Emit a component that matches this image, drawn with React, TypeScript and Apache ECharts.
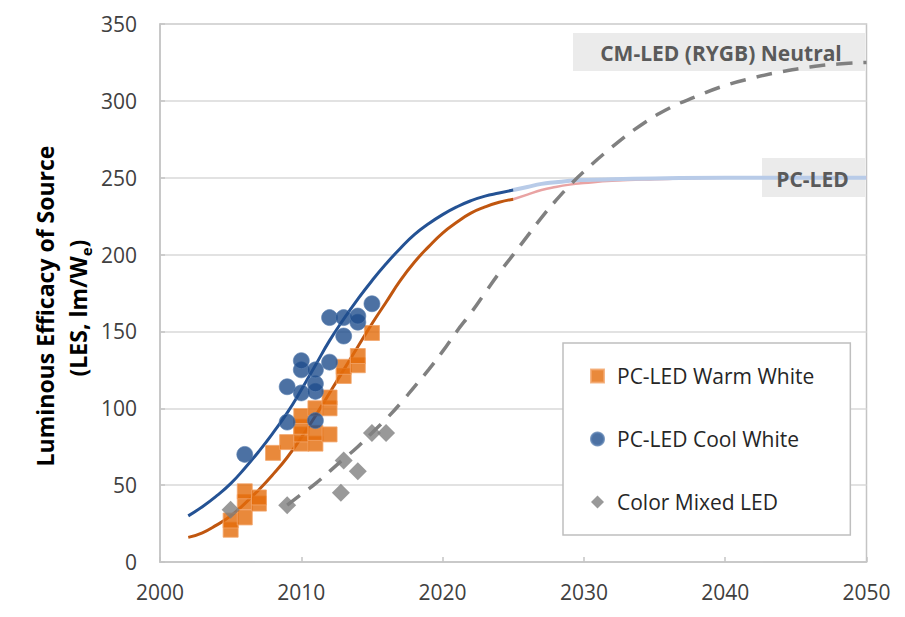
import React, { useEffect, useRef } from "react";
import * as echarts from "echarts";

// ---- data ----
const xTickMin = 2000;
const xTickMax = 2050;
const yTickMin = 0;
const yTickMax = 350;

const warmWhite: [number, number][] = [
  [2005, 21], [2005, 27], [2006, 29], [2006, 39], [2006, 46], [2007, 38], [2007, 42],
  [2008, 71], [2009, 78], [2010, 77], [2010, 83], [2010, 88], [2010, 95],
  [2011, 77], [2011, 84], [2011, 100], [2012, 83], [2012, 100], [2012, 107],
  [2013, 121], [2013, 127], [2014, 128], [2014, 134], [2015, 149],
];

const coolWhite: [number, number][] = [
  [2006, 70], [2009, 91], [2009, 114], [2010, 110], [2010, 125], [2010, 131],
  [2011, 92], [2011, 111], [2011, 116], [2011, 125], [2012, 130], [2012, 159],
  [2013, 147], [2013, 159], [2014, 156], [2014, 160], [2015, 168],
];

const colorMixed: [number, number][] = [
  [2005, 34], [2009, 37], [2012.8, 45], [2013, 66], [2014, 59], [2015, 84], [2016, 84],
];

const fitYears = [2002, 2003, 2004, 2005, 2006, 2007, 2008, 2009, 2010, 2011, 2012, 2013,
  2014, 2015, 2016, 2017, 2018, 2019, 2020, 2021, 2022, 2023, 2024, 2025];
const warmFit = [16, 19, 24, 30, 38, 47, 57, 68, 81, 95, 110, 125,
  140, 155, 169, 183, 195, 205, 214, 221, 227, 231, 234, 236];
const coolFit = [30, 36, 43, 51, 61, 72, 84, 97, 112, 128, 144, 158,
  171, 183, 194, 204, 213, 220, 226, 231, 235, 238, 240, 242];

const contYears = [2025, 2026, 2027, 2028, 2029, 2030, 2032, 2035, 2040, 2045, 2050];
const warmCont = [236, 239, 242, 244, 245.5, 246.5, 248, 249, 250, 250, 250];
const coolCont = [242, 244, 246, 247, 248, 248.5, 249, 249.5, 250, 250, 250];

const cmYears = [2009, 2010, 2011, 2012, 2013, 2014, 2015, 2016, 2017, 2018, 2019, 2020,
  2021, 2022, 2023, 2024, 2025, 2026, 2027, 2028, 2029, 2030, 2032, 2034, 2036, 2038,
  2040, 2042, 2044, 2046, 2048, 2050];
const cmFit = [37, 44, 51, 59, 67, 75, 84, 93, 103, 114, 125, 137,
  150, 162, 175, 188, 200, 212, 224, 235, 245, 254, 270, 284, 295, 303,
  310, 315, 319, 322, 324, 325];

const legendNames = ["PC-LED Warm White", "PC-LED Cool White", "Color Mixed LED"];
const yTitle1 = "Luminous Efficacy of Source";
const cmLabel = "CM-LED (RYGB) Neutral";
const pcLabel = "PC-LED";

const FONT = "'Open Sans', 'Noto Sans', sans-serif";

const zip = (xs: number[], ys: number[]) => xs.map((x, i) => [x, ys[i]]);

export default function App() {
  const ref = useRef<HTMLDivElement>(null);

  useEffect(() => {
    if (!ref.current) return;
    const chart = echarts.init(ref.current, undefined, { renderer: "svg" });
    const lineBase = {
      type: "line",
      smooth: true,
      showSymbol: false,
      symbol: "none",
    };
    const option: any = {
      animation: false,
      backgroundColor: "#ffffff",
      grid: {
        left: 160,
        right: 38.5,
        top: 24,
        bottom: 55,
        show: true,
        borderColor: "#c4c4c4",
        borderWidth: 1.5,
        backgroundColor: "transparent",
      },
      xAxis: {
        type: "value",
        min: xTickMin,
        max: xTickMax,
        interval: 10,
        axisLine: { show: true, lineStyle: { color: "#c4c4c4", width: 1.5 } },
        axisTick: { show: true, inside: true, length: 5, lineStyle: { color: "#c4c4c4", width: 1.5 } },
        splitLine: { show: false },
        axisLabel: {
          margin: 19,
          fontFamily: FONT,
          fontSize: 21,
          color: "#404040",
          formatter: (v: number) => String(v),
        },
      },
      yAxis: {
        type: "value",
        min: yTickMin,
        max: yTickMax,
        interval: 50,
        axisLine: { show: true, lineStyle: { color: "#c4c4c4", width: 1.5 } },
        axisTick: { show: true, inside: true, length: 5, lineStyle: { color: "#c4c4c4", width: 1.5 } },
        splitLine: { show: true, lineStyle: { color: "#d9d9d9", width: 1.5 } },
        axisLabel: {
          margin: 23,
          fontFamily: FONT,
          fontSize: 21,
          color: "#404040",
        },
      },
      legend: {
        data: legendNames,
        orient: "vertical",
        left: 563,
        top: 343,
        selectedMode: false,
        backgroundColor: "#ffffff",
        borderColor: "#bfbfbf",
        borderWidth: 1.5,
        padding: [21, 36, 21, 27],
        itemWidth: 13,
        itemHeight: 13,
        itemGap: 39,
        textStyle: {
          fontFamily: FONT,
          fontSize: 21,
          lineHeight: 24,
          color: "#262626",
          padding: [0, 0, 0, 8],
        },
      },
      graphic: [
        {
          type: "rect",
          z: 1,
          shape: { x: 573, y: 33, width: 292, height: 38 },
          style: { fill: "#ebebeb" },
        },
        {
          type: "rect",
          z: 1,
          shape: { x: 762, y: 158, width: 103, height: 39 },
          style: { fill: "#ebebeb" },
        },
        {
          type: "text",
          z: 10,
          x: 721,
          y: 53,
          style: {
            text: cmLabel,
            fontFamily: FONT,
            fontSize: 21,
            fontWeight: "bold",
            fill: "#5a5a5a",
            align: "center",
            verticalAlign: "middle",
            textAlign: "center",
            textVerticalAlign: "middle",
          },
        },
        {
          type: "text",
          z: 10,
          x: 812.5,
          y: 179,
          style: {
            text: pcLabel,
            fontFamily: FONT,
            fontSize: 21,
            fontWeight: "bold",
            fill: "#5a5a5a",
            align: "center",
            verticalAlign: "middle",
            textAlign: "center",
            textVerticalAlign: "middle",
          },
        },
        {
          type: "text",
          z: 10,
          x: 45,
          y: 306,
          rotation: Math.PI / 2,
          style: {
            text: yTitle1,
            fontFamily: FONT,
            fontSize: 23,
            fontWeight: "bold",
            fill: "#000000",
            align: "center",
            verticalAlign: "middle",
            textAlign: "center",
            textVerticalAlign: "middle",
          },
        },
        {
          type: "text",
          z: 10,
          x: 78,
          y: 308,
          rotation: Math.PI / 2,
          style: {
            text: "{m|(LES, lm/W}{s|e}{m|)}",
            fontFamily: FONT,
            fontSize: 23,
            fontWeight: "bold",
            fill: "#000000",
            align: "center",
            verticalAlign: "middle",
            textAlign: "center",
            textVerticalAlign: "middle",
            rich: {
              m: { fontFamily: FONT, fontSize: 23, fontWeight: "bold", lineHeight: 30, verticalAlign: "middle", fill: "#000000" },
              s: { fontFamily: FONT, fontSize: 15, fontWeight: "bold", lineHeight: 15, verticalAlign: "bottom", fill: "#000000" },
            },
          },
        },
      ],
      series: [
        {
          ...lineBase,
          name: "PC-LED fit (continued)",
          data: zip(contYears, warmCont),
          z: 2,
          lineStyle: { color: "#e9a3a3", width: 2.5 },
        },
        {
          ...lineBase,
          name: "PC-LED Cool fit (continued)",
          data: zip(contYears, coolCont),
          z: 2,
          lineStyle: { color: "#b8cbe8", width: 4 },
        },
        {
          ...lineBase,
          name: "PC-LED Warm fit",
          data: zip(fitYears, warmFit),
          z: 3,
          lineStyle: { color: "#c0560f", width: 3 },
        },
        {
          ...lineBase,
          name: "PC-LED Cool fit",
          data: zip(fitYears, coolFit),
          z: 3,
          lineStyle: { color: "#245294", width: 3 },
        },
        {
          ...lineBase,
          name: "CM-LED fit",
          data: zip(cmYears, cmFit),
          z: 3,
          lineStyle: { color: "#808080", width: 3.5, type: [16, 11] },
        },
        {
          name: legendNames[0],
          type: "scatter",
          data: warmWhite,
          symbol: "rect",
          symbolSize: 15,
          z: 5,
          itemStyle: { color: "#e46c0a", borderColor: "#f2a56a", borderWidth: 1 },
        },
        {
          name: legendNames[1],
          type: "scatter",
          data: coolWhite,
          symbol: "circle",
          symbolSize: 16,
          z: 6,
          itemStyle: { color: "#1f4e8c", borderColor: "#5a7fb0", borderWidth: 0.8 },
        },
        {
          name: legendNames[2],
          type: "scatter",
          data: colorMixed,
          symbol: "diamond",
          symbolSize: 18,
          z: 5,
          itemStyle: { color: "#7f7f7f" },
        },
      ],
    };
    chart.setOption(option);
    return () => chart.dispose();
  }, []);

  return (
    <div
      ref={ref}
      style={{ position: "fixed", left: 0, top: 0, width: 905, height: 617, background: "#fff" }}
    />
  );
}
